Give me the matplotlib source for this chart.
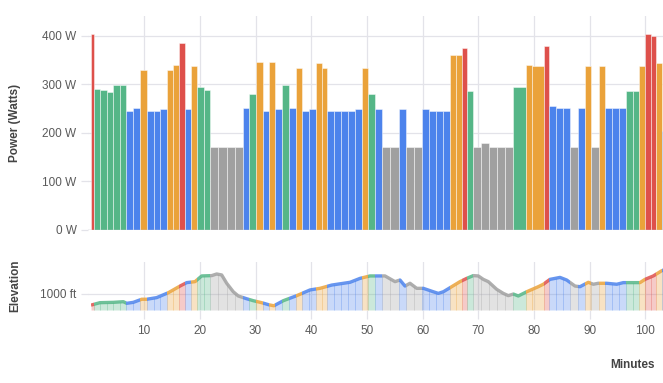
import numpy as np
import matplotlib
matplotlib.use("Agg")
import matplotlib.pyplot as plt
from matplotlib.patches import Rectangle

# ─────────────────────────────────────────────
#  Data (minutes / watts / feet)
# ─────────────────────────────────────────────
# bar edges in minutes: bar i spans edges[i] .. edges[i+1]
bar_edges = [
    0.47, 0.95, 2.08, 3.28, 4.48, 5.67, 6.81, 8.07, 9.32, 10.46, 11.72, 12.91,
    14.17, 15.25, 16.27, 17.28, 18.48, 19.56, 20.75, 21.83, 23.33, 24.82, 26.26,
    27.70, 28.89, 30.15, 31.29, 32.48, 33.56, 34.82, 36.01, 37.27, 38.35, 39.54,
    40.80, 41.87, 42.89, 44.15, 45.40, 46.66, 47.92, 49.12, 50.25, 51.51, 52.77,
    54.20, 55.70, 57.02, 58.46, 59.89, 61.15, 62.41, 63.66, 64.92, 66.00, 67.01,
    68.00, 69.11, 70.49, 71.98, 73.42, 74.86, 76.29, 78.57, 79.71, 81.74, 82.76,
    84.02, 85.28, 86.53, 87.97, 89.23, 90.30, 91.68, 92.82, 94.07, 95.33, 96.59,
    97.72, 98.92, 99.94, 100.96, 101.91, 102.93, 103.60,
]
bar_power = [
    403, 291, 288, 285, 298, 298, 245, 252, 330, 245, 245, 249,
    330, 340, 386, 249, 337, 294, 288, 172, 172, 172, 172,
    252, 280, 347, 245, 347, 249, 298, 252, 333, 245, 249,
    344, 333, 245, 245, 245, 245, 249, 333, 280, 249, 172,
    172, 249, 172, 172, 249, 245, 245, 245, 361, 361, 375,
    287, 172, 179, 172, 172, 172, 294, 340, 337, 379, 256,
    252, 252, 172, 252, 337, 172, 337, 252, 252, 252, 287,
    287, 337, 403, 400, 344, 204,
]

elev_min = [
    0.47, 2.08, 4.47, 6.27, 6.88, 8.06, 9.57, 10.47, 12.26, 14.34, 16.45, 17.65,
    19.14, 20.34, 22.14, 23.03, 23.93, 24.83, 26.01, 26.91, 28.42, 29.61, 31.11,
    32.40, 33.30, 34.99, 37.40, 39.78, 41.58, 43.68, 46.97, 48.76, 50.56, 53.25,
    55.05, 55.94, 56.84, 57.74, 58.94, 60.13, 61.92, 62.82, 63.72, 65.22, 66.71,
    67.92, 69.10, 70.00, 70.90, 71.80, 73.30, 74.49, 75.39, 76.29, 77.18, 78.69,
    80.77, 81.67, 82.87, 84.67, 85.87, 87.36, 88.26, 89.75, 90.65, 91.54, 93.05,
    94.85, 96.03, 97.83, 99.03, 99.93, 101.42, 102.93, 103.60,
]
elev_ft = [
    930, 945, 947, 951, 941, 947, 966, 966, 976, 1006, 1047, 1068,
    1074, 1109, 1111, 1121, 1115, 1064, 1012, 986, 969, 957, 945,
    932, 926, 957, 988, 1023, 1033, 1053, 1070, 1094, 1109, 1109,
    1074, 1084, 1047, 1064, 1033, 1033, 1012, 1002, 1012, 1043, 1074,
    1094, 1111, 1109, 1088, 1074, 1027, 1002, 988, 998, 986, 1012,
    1043, 1058, 1088, 1100, 1084, 1047, 1043, 1070, 1058, 1064, 1064,
    1058, 1068, 1068, 1068, 1088, 1109, 1141, 1150,
]

power_ticks = [0, 100, 200, 300, 400]
minute_ticks = [10, 20, 30, 40, 50, 60, 70, 80, 90, 100]

# zone colours (Z1 grey .. Z5 red) and upper limits in watts
ZONE_LIMITS = [200, 270, 320, 368]
ZONE_COLORS = ["#a0a0a0", "#4c83ec", "#55b687", "#eaa23a", "#de504b"]

GRID = "#e3e3e9"
TICK_TXT = "#5a5a5a"
LABEL_TXT = "#444444"
FONT = "Liberation Sans"


def zone_color(watts):
    for lim, col in zip(ZONE_LIMITS, ZONE_COLORS):
        if watts < lim:
            return col
    return ZONE_COLORS[-1]


plt.rcParams["font.family"] = FONT

edges = np.array(bar_edges)
lefts = edges[:-1]
widths = np.diff(edges)
colors = [zone_color(p) for p in bar_power]

fig = plt.figure(figsize=(6.63, 3.83), dpi=100)
W, H = 663.0, 383.0
x_left = 88.4
ax_p = fig.add_axes([x_left / W, (H - 230) / H, (W - x_left) / W, 214 / H])
ax_e = fig.add_axes([x_left / W, (H - 310) / H, (W - x_left) / W, 48 / H])

xmax = (W - x_left) / 5.57

# ── power panel ──
ax_p.bar(lefts, bar_power, width=widths, align="edge", color=colors,
         edgecolor=(1, 1, 1, 0.45), linewidth=0.7, zorder=2)
ax_p.axhline(0, color="#cdcdd3", linewidth=1.0, zorder=3)
ax_p.set_xlim(0, xmax)
ax_p.set_ylim(0, 441)
ax_p.set_yticks(power_ticks)
ax_p.set_yticklabels([f"{v} W" for v in power_ticks])
ax_p.set_xticks(minute_ticks)
ax_p.set_xticklabels([])
ax_p.tick_params(axis="x", length=0)
ax_p.tick_params(axis="y", length=5, width=0.9, color=GRID, pad=3.5,
                 labelsize=8.5, labelcolor=TICK_TXT)
ax_p.grid(True, color=GRID, linewidth=0.9)
ax_p.set_axisbelow(True)
for s in ax_p.spines.values():
    s.set_visible(False)

# ── elevation panel ──
y0 = 900
for x0, w, c in zip(lefts, widths, colors):
    clip = Rectangle((x0, 0), w, 5000, transform=ax_e.transData)
    f = ax_e.fill_between(elev_min, y0, elev_ft, color=c, alpha=0.3,
                          linewidth=0, zorder=2)
    f.set_clip_path(clip)
    ln, = ax_e.plot(elev_min, elev_ft, color=c, linewidth=2.4, alpha=0.85,
                    solid_capstyle="butt", zorder=3)
    ln.set_clip_path(clip)

ax_e.set_xlim(0, xmax)
ax_e.set_ylim(y0, 1194.5)
ax_e.set_yticks([1000])
ax_e.set_yticklabels(["1000 ft"])
ax_e.set_xticks(minute_ticks)
ax_e.tick_params(axis="y", length=5, width=0.9, color=GRID, pad=3.5,
                 labelsize=8.5, labelcolor=TICK_TXT)
ax_e.tick_params(axis="x", length=6.5, width=0.9, color=GRID, pad=4,
                 labelsize=8.5, labelcolor=TICK_TXT)
ax_e.grid(True, color=GRID, linewidth=0.9)
ax_e.set_axisbelow(True)
for s in ax_e.spines.values():
    s.set_visible(False)

# axis titles
fig.text(15 / W, 1 - 123 / H, "Power (Watts)", rotation=90, ha="center",
         va="center", fontsize=8.5, fontweight="bold", color=LABEL_TXT)
fig.text(15 / W, 1 - 286 / H, "Elevation", rotation=90, ha="center",
         va="center", fontsize=8.5, fontweight="bold", color=LABEL_TXT)
fig.text(655 / W, 1 - 365 / H, "Minutes", ha="right", va="center",
         fontsize=8.5, fontweight="bold", color=LABEL_TXT)

fig.savefig("out.png", dpi=100)
